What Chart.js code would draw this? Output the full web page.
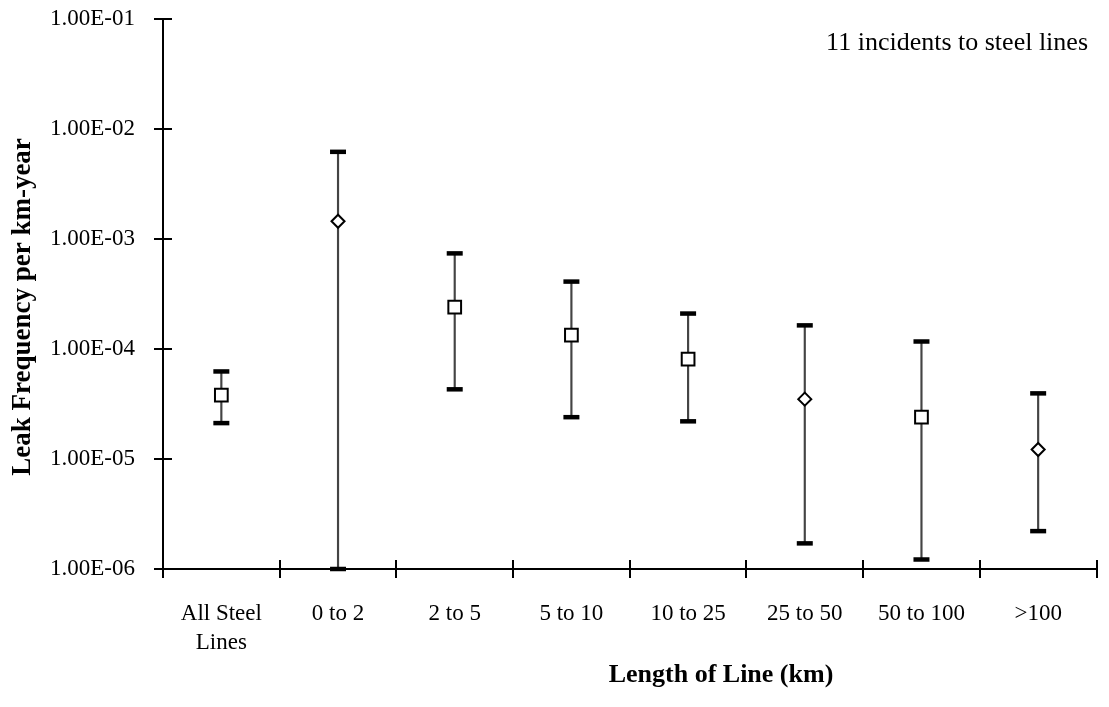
<!DOCTYPE html>
<html><head><meta charset="utf-8">
<script src="https://cdn.jsdelivr.net/npm/chart.js@4.4.1/dist/chart.umd.min.js"></script>
<style>html,body{margin:0;padding:0;background:#fff}#wrap{width:1109px;height:707px;position:relative}</style>
</head><body><div id="wrap"><canvas id="c"></canvas></div>
<script>
const categories = [['All Steel','Lines'], '0 to 2', '2 to 5', '5 to 10', '10 to 25', '25 to 50', '50 to 100', '>100'];
const bestEstimate = [3.8e-5, 1.45e-3, 2.4e-4, 1.34e-4, 8.1e-5, 3.5e-5, 2.4e-5, 1.22e-5];
const upperBound   = [6.25e-5, 6.2e-3, 7.4e-4, 4.1e-4, 2.1e-4, 1.64e-4, 1.17e-4, 3.95e-5];
const lowerBound   = [2.12e-5, 1.0e-6, 4.3e-5, 2.4e-5, 2.2e-5, 1.71e-6, 1.22e-6, 2.21e-6];
const markerShape  = ['rect', 'rectRot', 'rect', 'rect', 'rect', 'rectRot', 'rect', 'rectRot'];
const yTickValues  = [1e-6, 1e-5, 1e-4, 1e-3, 1e-2, 1e-1];
const yTickLabels  = ['1.00E-06', '1.00E-05', '1.00E-04', '1.00E-03', '1.00E-02', '1.00E-01'];
const yAxisTitle = 'Leak Frequency per km-year';
const xAxisTitle = 'Length of Line (km)';
const noteText = '11 incidents to steel lines';

const FONT = "'Liberation Serif', 'Times New Roman', serif";

const decorations = {
  id: 'decorations',
  afterDraw(chart) {
    const ctx = chart.ctx, a = chart.chartArea;
    const xs = chart.scales.x, ys = chart.scales.y;
    ctx.save();
    ctx.strokeStyle = '#000';
    ctx.lineWidth = 2;
    yTickValues.forEach(v => {
      const y = Math.round(ys.getPixelForValue(v));
      ctx.beginPath(); ctx.moveTo(a.left - 9, y); ctx.lineTo(a.left + 9, y); ctx.stroke();
    });
    const n = categories.length;
    for (let i = 0; i <= n; i++) {
      const x = Math.round(xs.left + i * (xs.right - xs.left) / n);
      ctx.beginPath(); ctx.moveTo(x, a.bottom - 9); ctx.lineTo(x, a.bottom + 9); ctx.stroke();
    }
    ctx.fillStyle = '#000';
    ctx.font = '26px ' + FONT;
    ctx.textAlign = 'right'; ctx.textBaseline = 'alphabetic';
    ctx.fillText(noteText, 1088, 50);
    ctx.font = 'bold 26px ' + FONT;
    ctx.textAlign = 'center'; ctx.textBaseline = 'middle';
    ctx.fillText(xAxisTitle, 721, 675);
    ctx.font = 'bold 27px ' + FONT;
    ctx.translate(23, 307);
    ctx.rotate(-Math.PI / 2);
    ctx.fillText(yAxisTitle, 0, 0);
    ctx.restore();
  }
};

new Chart(document.getElementById('c'), {
  type: 'bar',
  data: {
    labels: categories,
    datasets: [
      {
        type: 'line', label: 'estimate', data: bestEstimate, order: 1,
        showLine: false, pointStyle: markerShape,
        pointRadius: ctx => markerShape[ctx.dataIndex] === 'rect' ? 9 : 6.5,
        pointBackgroundColor: '#fff', pointBorderColor: '#000', pointBorderWidth: 2,
        clip: false
      },
      {
        type: 'line', label: 'upper', data: upperBound, order: 2,
        showLine: false, pointStyle: 'line', pointRadius: 8,
        pointBorderColor: '#000', pointBorderWidth: 4.5, clip: false
      },
      {
        type: 'line', label: 'lower', data: lowerBound, order: 2,
        showLine: false, pointStyle: 'line', pointRadius: 8,
        pointBorderColor: '#000', pointBorderWidth: 4.5, clip: false
      },
      {
        type: 'bar', label: 'range', order: 3,
        data: lowerBound.map((l, i) => [l, upperBound[i]]),
        backgroundColor: '#444', borderWidth: 0, barThickness: 1.5, grouped: false
      }
    ]
  },
  options: {
    responsive: true, maintainAspectRatio: false, animation: false,
    layout: { padding: { top: 19, right: 4, left: 0, bottom: 0 } },
    plugins: { legend: { display: false }, tooltip: { enabled: false }, title: { display: false } },
    scales: {
      x: {
        type: 'category', offset: true,
        grid: { display: false, offset: true },
        border: { display: true, color: '#000', width: 2 },
        ticks: { color: '#000', font: { family: FONT, size: 23, lineHeight: 1.26 }, padding: 22, maxRotation: 0, autoSkip: false },
        afterFit(s) { s.height = 138; s.paddingLeft = 0; s.paddingRight = 0; }
      },
      y: {
        type: 'logarithmic', min: 1e-6, max: 1e-1,
        grid: { display: false },
        border: { display: true, color: '#000', width: 2 },
        afterBuildTicks(s) { s.ticks = yTickValues.map(v => ({ value: v })); },
        ticks: {
          color: '#000', font: { family: FONT, size: 23 }, padding: 20,
          callback: (v) => { const i = yTickValues.findIndex(t => Math.abs(t - v) / t < 1e-6); return i >= 0 ? yTickLabels[i] : ''; }
        },
        afterFit(s) { s.width = 163; s.paddingTop = 0; s.paddingBottom = 0; }
      }
    }
  },
  plugins: [decorations]
});
</script></body></html>
